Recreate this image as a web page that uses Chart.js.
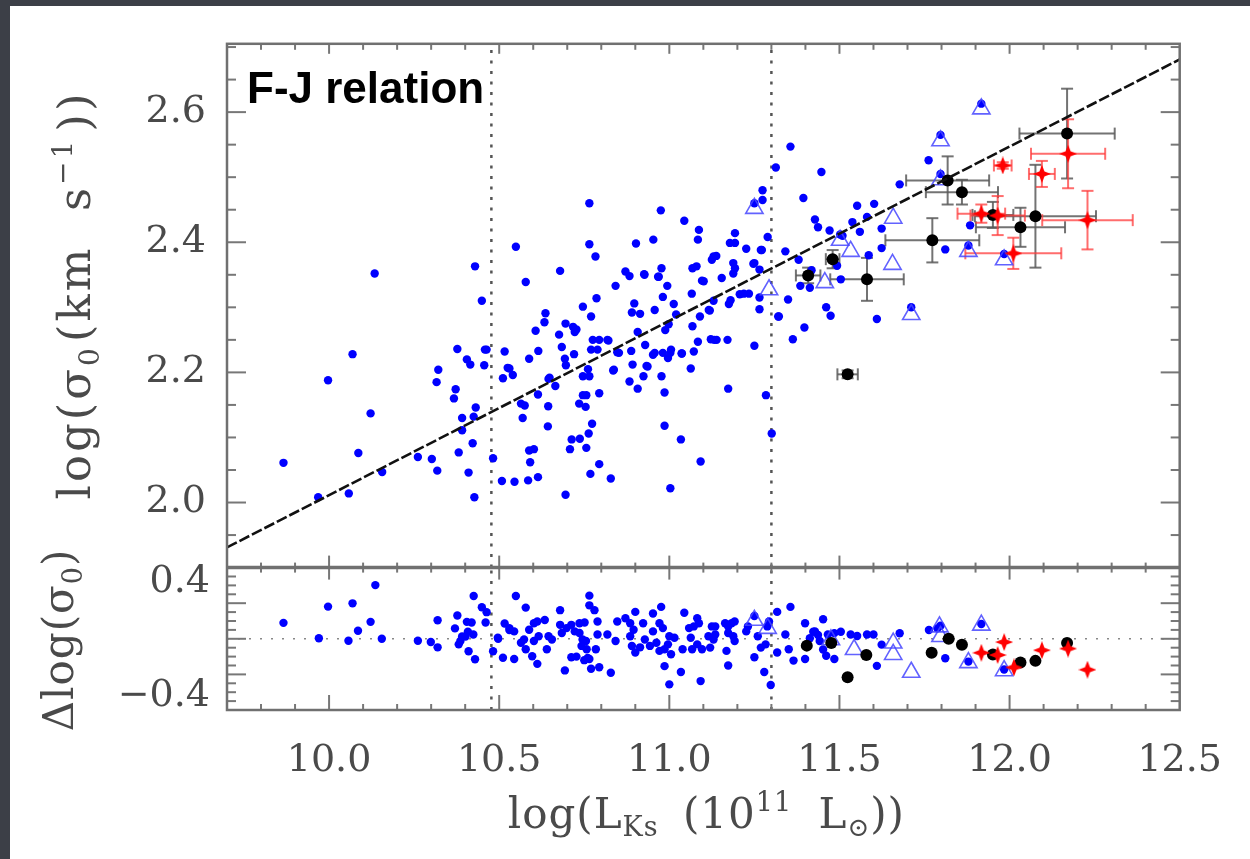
<!DOCTYPE html>
<html>
<head>
<meta charset="utf-8">
<script src="https://cdn.jsdelivr.net/npm/chart.js@4.4.1/dist/chart.umd.min.js"></script>
<style>
  html, body { margin: 0; padding: 0; }
  body { width: 1250px; height: 859px; background: #3c3f47; position: relative; overflow: hidden; }
  #paper { position: absolute; left: 10px; top: 6px; width: 1240px; height: 853px; background: #fff; }
  #c { position: absolute; left: 0; top: 0; }
</style>
</head>
<body>
<div id="paper"></div>
<canvas id="c" width="1250" height="859"></canvas>
<script>
// ---- data ----
const xTicks = [10.0, 10.5, 11.0, 11.5, 12.0, 12.5];
const yTicks = [2.0, 2.2, 2.4, 2.6];
const resTicks = [-0.4, 0.0, 0.4];
const cutLines = [10.477, 11.30];            // vertical dotted lines
const fitLine = [[9.7, 1.931], [12.5, 2.681]]; // F-J fit, end points

// main panel: blue dots  [logL, log sigma]
const blueTop = [
  [9.866,2.061],[9.968,2.008],[9.997,2.188],[10.058,2.014],[10.069,2.228],[10.086,2.076],[10.122,2.137],[10.134,2.352],[10.156,2.047],
  [10.261,2.070],[10.302,2.067],[10.316,2.185],[10.318,2.049],[10.321,2.204],[10.367,2.160],[10.372,2.174],[10.377,2.236],[10.381,2.077],
  [10.391,2.111],[10.391,2.130],[10.405,2.220],[10.410,2.046],[10.415,2.212],[10.422,2.091],[10.425,2.132],[10.427,2.008],[10.429,2.363],
  [10.431,2.146],[10.449,2.310],[10.456,2.211],[10.463,2.235],[10.482,2.068],[10.508,2.033],[10.511,2.191],[10.516,2.232],[10.530,2.206],
  [10.540,2.196],[10.545,2.032],[10.549,2.393],[10.564,2.152],[10.569,2.130],[10.575,2.149],[10.578,2.339],[10.585,2.034],[10.588,2.080],
  [10.588,2.221],[10.591,2.062],[10.602,2.082],[10.607,2.264],[10.614,2.039],[10.614,2.166],[10.615,2.233],[10.633,2.277],[10.636,2.291],
  [10.643,2.117],[10.644,2.148],[10.645,2.190],[10.665,2.179],[10.676,2.258],[10.679,2.356],[10.684,2.239],[10.693,2.221],[10.695,2.012],
  [10.695,2.275],[10.696,2.211],[10.708,2.082],[10.713,2.097],[10.717,2.270],[10.720,2.228],[10.722,2.262],[10.735,2.152],[10.737,2.098],
  [10.746,2.165],[10.746,2.194],[10.746,2.301],[10.754,2.147],[10.756,2.084],[10.756,2.165],[10.761,2.205],[10.763,2.106],[10.765,2.194],
  [10.765,2.397],[10.765,2.460],[10.768,2.044],[10.770,2.235],[10.770,2.286],[10.773,2.121],[10.775,2.250],[10.783,2.378],[10.786,2.314],
  [10.789,2.235],[10.794,2.059],[10.794,2.168],[10.794,2.250],[10.821,2.249],[10.828,2.037],[10.835,2.203],[10.842,2.333],[10.852,2.230],
  [10.871,2.355],[10.883,2.186],[10.883,2.348],[10.888,2.233],[10.890,2.292],[10.892,2.212],[10.897,2.306],[10.902,2.398],[10.907,2.175],
  [10.907,2.262],[10.914,2.290],[10.924,2.194],[10.927,2.350],[10.929,2.242],[10.936,2.209],[10.953,2.404],[10.957,2.230],[10.957,2.296],
  [10.967,2.347],[10.975,2.449],[10.977,2.194],[10.977,2.360],[10.981,2.230],[10.981,2.316],[10.986,2.118],[10.986,2.169],[10.988,2.265],
  [10.994,2.333],[10.996,2.222],[10.998,2.274],[11.003,2.022],[11.003,2.230],[11.013,2.305],[11.020,2.289],[11.034,2.097],[11.037,2.229],
  [11.044,2.433],[11.063,2.206],[11.066,2.321],[11.068,2.271],[11.068,2.360],[11.072,2.232],[11.080,2.363],[11.084,2.247],[11.084,2.404],
  [11.087,2.419],[11.090,2.286],[11.092,2.063],[11.101,2.340],[11.119,2.295],[11.122,2.251],[11.125,2.373],[11.130,2.310],[11.130,2.378],
  [11.132,2.250],[11.154,2.345],[11.171,2.250],[11.173,2.175],[11.175,2.305],[11.178,2.399],[11.180,2.311],[11.188,2.352],[11.188,2.368],
  [11.193,2.360],[11.193,2.399],[11.193,2.414],[11.219,2.321],[11.226,2.390],[11.234,2.321],[11.250,2.241],[11.250,2.368],[11.265,2.297],
  [11.265,2.315],[11.265,2.358],[11.269,2.388],[11.274,2.465],[11.274,2.480],[11.284,2.165],[11.289,2.408],[11.301,2.106],[11.313,2.515],
  [11.320,2.286],[11.341,2.386],[11.349,2.312],[11.356,2.547],[11.363,2.251],[11.380,2.373],[11.385,2.333],[11.394,2.468],[11.397,2.269],
  [11.413,2.330],[11.418,2.357],[11.428,2.435],[11.437,2.423],[11.447,2.508],[11.461,2.300],[11.471,2.418],[11.474,2.287],[11.493,2.364],
  [11.504,2.343],[11.509,2.410],[11.538,2.431],[11.552,2.456],[11.560,2.416],[11.581,2.439],[11.586,2.380],[11.602,2.459],[11.610,2.282],
  [11.624,2.391],[11.624,2.421],[11.677,2.489],[11.711,2.300],[11.762,2.526],[11.811,2.389],[11.884,2.426],
  [10.458,2.235],[10.525,2.207],[10.648,2.192],[10.727,2.266],[10.818,2.250],[10.847,2.231],[10.837,2.204],[10.926,2.351],[10.952,2.227],
  [10.933,2.210],[10.969,2.347],[11.005,2.235],[11.036,2.229],[11.096,2.341],[11.116,2.296],[11.138,2.379],[11.139,2.250],[11.207,2.320],
  [11.247,2.367],[11.272,2.388],[11.322,2.286],
  [11.250,2.460],[11.797,2.565],[11.797,2.505],[11.917,2.613],[11.879,2.395],[11.984,2.382],[11.502,2.412]
];
// main panel: open triangles
const triTop = [
  [11.250,2.452],[11.293,2.327],[11.457,2.338],[11.502,2.403],[11.533,2.386],[11.656,2.366],[11.658,2.437],
  [11.711,2.289],[11.797,2.556],[11.797,2.496],[11.879,2.386],[11.917,2.605],[11.984,2.373]
];
// main panel: black circles  [x, y, xerr, yerr]
const blackTop = [
  [12.169,2.567,0.140,0.069],[11.818,2.495,0.122,0.037],[11.860,2.477,0.106,0.019],[11.773,2.403,0.138,0.034],
  [12.032,2.423,0.131,0.030],[12.076,2.440,0.178,0.079],[11.581,2.343,0.108,0.033],[11.480,2.374,0.020,0.014],
  [11.408,2.349,0.036,0.012],[11.524,2.197,0.030,0.006],[11.951,2.442,0.060,0.020]
];
// main panel: red stars  [x, y, xerr, yerr]
const redTop = [
  [12.172,2.536,0.109,0.053],[12.229,2.434,0.133,0.045],[12.095,2.505,0.038,0.020],[11.980,2.518,0.026,0.005],
  [11.965,2.441,0.080,0.030],[11.917,2.444,0.070,0.014],[12.011,2.383,0.141,0.024]
];

// residual panel  [logL, delta log sigma]
const blueRes = [
  [9.866,0.112],[9.970,0.004],[9.997,0.226],[10.069,0.249],[10.136,0.377],[10.122,0.119],[10.085,0.057],[10.057,-0.014],[10.155,0.000],
  [10.261,-0.014],[10.299,-0.023],[10.319,-0.060],[10.319,0.130],[10.377,0.164],[10.370,0.073],[10.391,0.016],[10.401,0.016],[10.408,0.050],
  [10.386,-0.016],[10.381,-0.039],[10.419,0.114],[10.424,0.030],[10.496,0.007],[10.530,0.075],[10.544,0.052],[10.544,-0.142],
  [10.425,0.301],[10.449,0.221],[10.429,-0.144],[10.410,-0.087],[10.405,0.119],[10.460,0.114],[10.463,0.187],[10.482,-0.087],[10.497,0.000],
  [10.511,-0.133],[10.516,0.107],[10.530,0.061],[10.549,0.301],
  [10.578,0.219],[10.602,0.109],[10.612,0.121],[10.634,0.132],[10.588,0.064],[10.573,-0.005],[10.564,-0.028],[10.602,-0.016],[10.616,0.018],
  [10.578,-0.073],[10.597,-0.123],[10.612,-0.176],[10.645,0.018],[10.655,-0.005],[10.640,-0.073],[10.679,0.201],[10.679,0.098],[10.698,0.075],
  [10.712,0.098],[10.684,0.041],[10.736,0.109],[10.751,0.114],[10.722,0.052],[10.736,0.041],[10.745,-0.005],[10.755,-0.016],[10.742,-0.050],
  [10.757,-0.073],[10.765,0.235],[10.765,0.303],[10.780,0.201],[10.789,0.121],[10.789,0.030],[10.784,-0.073],[10.765,-0.142],[10.712,-0.130],
  [10.727,-0.125],[10.750,-0.150],[10.760,-0.135],[10.693,-0.222],[10.770,-0.210],[10.794,-0.200],[10.828,-0.238],[10.818,0.030],[10.847,0.121],
  [10.842,-0.016],[10.871,0.144],[10.885,0.109],[10.900,0.189],[10.895,0.064],[10.885,0.018],[10.890,-0.050],[10.914,-0.060],[10.900,-0.096],
  [10.923,0.109],[10.928,-0.005],[10.952,0.178],[10.952,0.052],[10.962,-0.028],[10.943,-0.050],[10.976,0.224],[10.971,0.109],[10.981,0.075],
  [10.971,-0.085],[10.986,-0.073],[11.000,0.018],[11.015,0.007],[10.996,-0.039],[11.005,-0.108],[10.986,-0.192],[11.000,-0.320],[11.044,0.183],
  [11.039,-0.073],[11.034,-0.233],[11.058,0.075],[11.072,0.087],[11.063,0.007],[11.082,0.144],[11.087,0.109],[11.082,-0.039],[11.096,-0.073],
  [11.067,-0.073],[11.092,-0.297],[11.125,0.087],[11.135,0.087],[11.115,0.018],[11.130,-0.005],[11.135,0.030],[11.120,-0.062],[11.164,0.109],
  [11.173,0.087],[11.183,0.109],[11.192,0.121],[11.173,0.041],[11.188,0.018],[11.168,-0.085],[11.173,-0.187],[11.192,-0.016],[11.231,0.087],
  [11.226,0.052],[11.250,-0.130],[11.260,0.018],[11.250,0.160],[11.288,0.087],[11.293,0.121],[11.283,-0.039],[11.269,-0.062],[11.279,-0.233],
  [11.298,-0.324],[11.317,0.189],[11.317,-0.096],[11.341,0.030],[11.356,0.224],[11.351,-0.073],[11.365,-0.153],[11.399,0.109],[11.399,-0.142],
  [11.428,0.052],[11.452,0.137],[11.442,-0.016],[11.461,-0.119],[11.485,-0.142],[11.413,0.004],[11.452,-0.075],[11.423,0.050],[11.437,0.027],
  [11.466,0.030],[11.485,0.040],[11.504,0.050],[11.533,0.030],[11.552,0.020],[11.581,0.030],[11.600,0.030],[11.610,-0.190],[11.624,-0.041],
  [11.677,0.039],[11.763,0.062],[11.788,0.073],[11.811,-0.137],[11.917,0.104],[11.797,0.092],[11.879,-0.160],[11.984,-0.216]
];
const triRes = [
  [11.250,0.130],[11.289,0.073],[11.475,-0.007],[11.543,-0.075],[11.658,-0.030],[11.658,-0.110],[11.711,-0.235],
  [11.794,0.084],[11.797,0.016],[11.879,-0.167],[11.917,0.096],[11.984,-0.224]
];
const blackRes = [
  [11.404,-0.048],[11.476,-0.030],[11.524,-0.270],[11.579,-0.114],[11.771,-0.098],[11.821,0.000],
  [11.860,-0.041],[11.951,-0.110],[12.032,-0.167],[12.076,-0.155],[12.169,-0.030]
];
const redRes = [
  [11.917,-0.098],[11.965,-0.114],[11.984,-0.023],[12.013,-0.201],[12.095,-0.080],[12.172,-0.069],[12.229,-0.217]
];

// ---- drawing ----
const SERIF = '"DejaVu Serif", "Liberation Serif", serif';
const pts = arr => arr.map(p => ({x: p[0], y: p[1]}));

function sparkle(size, color) {
  const c = document.createElement('canvas');
  c.width = c.height = size;
  const g = c.getContext('2d'), h = size / 2, k = size * 0.14;
  g.fillStyle = color;
  g.beginPath();
  g.moveTo(h, 0); g.lineTo(h + k, h - k); g.lineTo(size, h); g.lineTo(h + k, h + k);
  g.lineTo(h, size); g.lineTo(h - k, h + k); g.lineTo(0, h); g.lineTo(h - k, h - k);
  g.closePath(); g.fill();
  return c;
}
const star = sparkle(18, '#ff0000');

function seg(ctx, x1, y1, x2, y2) {
  ctx.beginPath(); ctx.moveTo(x1, y1); ctx.lineTo(x2, y2); ctx.stroke();
}

const errorBars = {
  id: 'errorBars',
  beforeDatasetsDraw(chart) {
    const ctx = chart.ctx, xs = chart.scales.x;
    chart.data.datasets.forEach(ds => {
      if (!ds.errors) return;
      const ys = chart.scales[ds.yAxisID || 'y'];
      ctx.save();
      ctx.strokeStyle = ds.errColor;
      ctx.lineWidth = 2;
      ds.errors.forEach(([x, y, ex, ey]) => {
        const px = xs.getPixelForValue(x), py = ys.getPixelForValue(y);
        const xa = xs.getPixelForValue(x - ex), xb = xs.getPixelForValue(x + ex);
        const ya = ys.getPixelForValue(y - ey), yb = ys.getPixelForValue(y + ey);
        const c = 6;
        seg(ctx, xa, py, xb, py); seg(ctx, xa, py - c, xa, py + c); seg(ctx, xb, py - c, xb, py + c);
        seg(ctx, px, ya, px, yb); seg(ctx, px - c, ya, px + c, ya); seg(ctx, px - c, yb, px + c, yb);
      });
      ctx.restore();
    });
  }
};

// box, inward tick marks, panel separator
const frame = {
  id: 'frame',
  afterDatasetsDraw(chart) {
    const ctx = chart.ctx, a = chart.chartArea;
    const xs = chart.scales.x, ys = chart.scales.y, yr = chart.scales.yRes;
    const sep = ys.bottom;
    ctx.save();
    ctx.strokeStyle = '#777';
    ctx.lineWidth = 2;
    for (let i = 98; i <= 124; i++) {
      const px = xs.getPixelForValue(i / 10), major = i % 5 === 0;
      seg(ctx, px, a.top, px, a.top + (major ? 10 : 6));
      seg(ctx, px, sep - (major ? 12 : 5), px, sep + (major ? 12 : 5));
      seg(ctx, px, a.bottom, px, a.bottom - (major ? 15 : 6));
    }
    for (let j = 39; j <= 54; j++) {
      const v = j * 0.05;
      if (v >= ys.max) continue;
      const py = ys.getPixelForValue(v), len = j % 4 === 0 ? 19 : 9;
      seg(ctx, a.left, py, a.left + len, py);
      seg(ctx, a.right, py, a.right - len, py);
    }
    for (let k = -7; k <= 7; k++) {
      const py = yr.getPixelForValue(k * 0.0625), len = k % 4 === 0 ? 19 : 9;
      seg(ctx, a.left, py, a.left + len, py);
      seg(ctx, a.right, py, a.right - len, py);
    }
    ctx.lineWidth = 2.5;
    ctx.strokeStyle = '#707070';
    ctx.strokeRect(a.left, a.top, a.right - a.left, a.bottom - a.top);
    ctx.lineWidth = 3.5;
    seg(ctx, a.left, sep, a.right, sep);
    ctx.restore();
  }
};

function richText(ctx, parts, cx, cy, angle, spacing) {
  ctx.save();
  ctx.translate(cx, cy);
  ctx.rotate(angle);
  ctx.textBaseline = 'alphabetic';
  ctx.textAlign = 'left';
  ctx.letterSpacing = (spacing || 0) + 'px';
  let total = 0;
  parts.forEach(p => {
    ctx.font = p.s + 'px ' + SERIF;
    p.w = ctx.measureText(p.t).width + (p.gap || 0);
    total += p.w;
  });
  let x = -total / 2;
  parts.forEach(p => {
    ctx.font = p.s + 'px ' + SERIF;
    ctx.fillText(p.t, x, p.dy || 0);
    x += p.w;
  });
  ctx.restore();
}

const titles = {
  id: 'titles',
  afterDraw(chart) {
    const ctx = chart.ctx, a = chart.chartArea;
    ctx.save();
    ctx.fillStyle = '#4a4a4a';
    richText(ctx, [
      {t: 'log(L', s: 42}, {t: 'Ks', s: 27, dy: 8, gap: 10},
      {t: ' (10', s: 42}, {t: '11', s: 27, dy: -17, gap: 12},
      {t: ' L', s: 42}, {t: '⊙', s: 26, dy: 8}, {t: '))', s: 42}
    ], (a.left + a.right) / 2 + 3, 828, 0, 1);
    richText(ctx, [
      {t: 'log(σ', s: 45}, {t: '0', s: 28, dy: 9, gap: 3},
      {t: '(km  s', s: 45}, {t: '−1', s: 28, dy: -18, gap: 6}, {t: '))', s: 45}
    ], 90, 295, -Math.PI / 2, 3);
    richText(ctx, [
      {t: 'Δlog(σ', s: 42}, {t: '0', s: 27, dy: 9}, {t: ')', s: 42}
    ], 73, 640, -Math.PI / 2, 1);
    ctx.fillStyle = '#000';
    ctx.font = 'bold 44px "Liberation Sans", Arial, sans-serif';
    ctx.fillText('F-J relation', 247, 103);
    ctx.restore();
  }
};

const tickFont = {family: SERIF, size: 38};
const fmt = v => (v < 0 ? '−' : '') + Math.abs(v).toFixed(1);
const BLUE_R = 4.2;

const datasets = [
  {label: 'fit', data: pts(fitLine), yAxisID: 'y', showLine: true, pointRadius: 0, borderColor: '#111',
   borderWidth: 2.6, borderDash: [11, 3], order: 0},
  ...cutLines.map(v => ({data: [{x: v, y: 1.9}, {x: v, y: 2.705}], yAxisID: 'y', showLine: true, pointRadius: 0,
   borderColor: '#555', borderWidth: 2.5, borderDash: [3, 7.5], order: 9})),
  ...cutLines.map(v => ({data: [{x: v, y: -0.5}, {x: v, y: 0.5}], yAxisID: 'yRes', showLine: true, pointRadius: 0,
   borderColor: '#555', borderWidth: 2.5, borderDash: [3, 7.5], order: 9})),
  {data: [{x: 9.7, y: 0}, {x: 12.5, y: 0}], yAxisID: 'yRes', showLine: true, pointRadius: 0,
   borderColor: '#888', borderWidth: 1.6, borderDash: [2, 9], order: 9},
  {label: 'blue', data: pts(blueTop), yAxisID: 'y', pointRadius: BLUE_R, pointBackgroundColor: '#0000ff', pointBorderWidth: 0, order: 5},
  {label: 'blueRes', data: pts(blueRes), yAxisID: 'yRes', pointRadius: BLUE_R, pointBackgroundColor: '#0000ff', pointBorderWidth: 0, order: 5},
  {label: 'tri', data: pts(triTop), yAxisID: 'y', pointStyle: 'triangle', pointRadius: 10, pointBackgroundColor: 'rgba(0,0,0,0)',
   pointBorderColor: 'rgba(70,70,255,0.85)', pointBorderWidth: 1.6, order: 4},
  {label: 'triRes', data: pts(triRes), yAxisID: 'yRes', pointStyle: 'triangle', pointRadius: 10, pointBackgroundColor: 'rgba(0,0,0,0)',
   pointBorderColor: 'rgba(70,70,255,0.85)', pointBorderWidth: 1.6, order: 4},
  {label: 'black', data: pts(blackTop), yAxisID: 'y', errors: blackTop, errColor: 'rgba(90,90,90,0.85)',
   pointRadius: 6, pointBackgroundColor: '#000', pointBorderWidth: 0, order: 2},
  {label: 'blackRes', data: pts(blackRes), yAxisID: 'yRes', pointRadius: 6, pointBackgroundColor: '#000', pointBorderWidth: 0, order: 2},
  {label: 'red', data: pts(redTop), yAxisID: 'y', errors: redTop, errColor: 'rgba(255,60,60,0.75)',
   pointStyle: star, order: 1},
  {label: 'redRes', data: pts(redRes), yAxisID: 'yRes', pointStyle: star, order: 1}
];

new Chart(document.getElementById('c'), {
  type: 'scatter',
  data: {datasets},
  options: {
    responsive: false,
    animation: false,
    events: [],
    layout: {padding: {left: 0, right: 51, top: 27, bottom: 0}},
    plugins: {legend: {display: false}, tooltip: {enabled: false}},
    scales: {
      x: {
        type: 'linear', position: 'bottom', min: 9.7, max: 12.5,
        afterFit(s) { s.height = 149; },
        afterBuildTicks(s) { s.ticks = xTicks.map(v => ({value: v})); },
        ticks: {font: tickFont, color: '#4a4a4a', padding: 28, maxRotation: 0, callback: v => fmt(v)},
        grid: {display: false, drawTicks: false},
        border: {display: false}
      },
      yRes: {
        type: 'linear', position: 'left', stack: 'panels', stackWeight: 146, min: -0.5, max: 0.5,
        afterFit(s) { s.width = 227; },
        afterBuildTicks(s) { s.ticks = resTicks.map(v => ({value: v})); },
        ticks: {font: tickFont, color: '#4a4a4a', padding: 17, callback: v => fmt(v)},
        grid: {display: false, drawTicks: false},
        border: {display: false}
      },
      y: {
        type: 'linear', position: 'left', stack: 'panels', stackWeight: 537, min: 1.9, max: 2.705,
        afterFit(s) { s.width = 227; },
        afterBuildTicks(s) { s.ticks = yTicks.map(v => ({value: v})); },
        ticks: {font: tickFont, color: '#4a4a4a', padding: 21, callback: v => fmt(v)},
        grid: {display: false, drawTicks: false},
        border: {display: false}
      }
    }
  },
  plugins: [errorBars, frame, titles]
});
</script>
</body>
</html>
